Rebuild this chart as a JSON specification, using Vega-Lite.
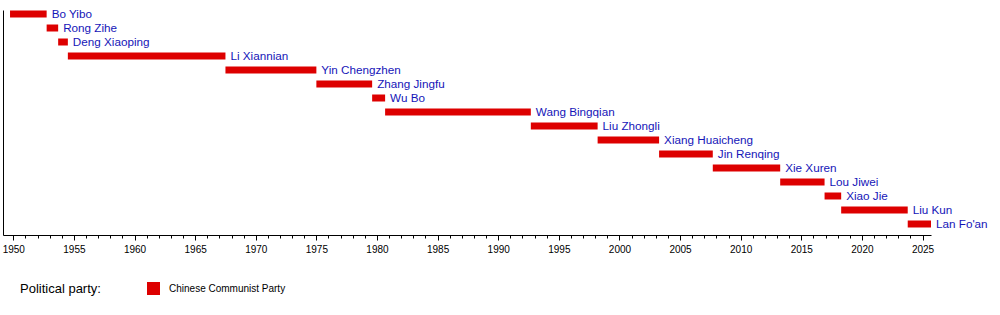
{
  "$schema": "https://vega.github.io/schema/vega-lite/v6.json",
  "width": 928,
  "height": 225,
  "autosize": {"type": "none"},
  "padding": {"left": 3, "top": 10, "right": 69, "bottom": 80},
  "background": "white",
  "view": {"stroke": null},
  "data": {
    "values": [
      {"name": "Bo Yibo", "row": 0, "start": 1949.73, "end": 1952.75, "party": "Chinese Communist Party"},
      {"name": "Rong Zihe", "row": 1, "start": 1952.75, "end": 1953.7, "party": "Chinese Communist Party"},
      {"name": "Deng Xiaoping", "row": 2, "start": 1953.7, "end": 1954.5, "party": "Chinese Communist Party"},
      {"name": "Li Xiannian", "row": 3, "start": 1954.5, "end": 1967.5, "party": "Chinese Communist Party"},
      {"name": "Yin Chengzhen", "row": 4, "start": 1967.5, "end": 1975.0, "party": "Chinese Communist Party"},
      {"name": "Zhang Jingfu", "row": 5, "start": 1975.0, "end": 1979.6, "party": "Chinese Communist Party"},
      {"name": "Wu Bo", "row": 6, "start": 1979.6, "end": 1980.67, "party": "Chinese Communist Party"},
      {"name": "Wang Bingqian", "row": 7, "start": 1980.67, "end": 1992.69, "party": "Chinese Communist Party"},
      {"name": "Liu Zhongli", "row": 8, "start": 1992.69, "end": 1998.2, "party": "Chinese Communist Party"},
      {"name": "Xiang Huaicheng", "row": 9, "start": 1998.2, "end": 2003.27, "party": "Chinese Communist Party"},
      {"name": "Jin Renqing", "row": 10, "start": 2003.27, "end": 2007.7, "party": "Chinese Communist Party"},
      {"name": "Xie Xuren", "row": 11, "start": 2007.7, "end": 2013.26, "party": "Chinese Communist Party"},
      {"name": "Lou Jiwei", "row": 12, "start": 2013.26, "end": 2016.92, "party": "Chinese Communist Party"},
      {"name": "Xiao Jie", "row": 13, "start": 2016.92, "end": 2018.29, "party": "Chinese Communist Party"},
      {"name": "Liu Kun", "row": 14, "start": 2018.29, "end": 2023.78, "party": "Chinese Communist Party"},
      {"name": "Lan Fo'an", "row": 15, "start": 2023.78, "end": 2025.7, "party": "Chinese Communist Party"}
    ]
  },
  "encoding": {
    "y": {
      "field": "row",
      "type": "quantitative",
      "scale": {"domain": [-0.286, 15.786], "reverse": true, "nice": false, "zero": false, "padding": 0},
      "axis": {"labels": false, "ticks": false, "grid": false, "title": null, "domain": true, "domainColor": "black", "domainWidth": 1}
    }
  },
  "layer": [
    {
      "mark": {"type": "bar", "orient": "horizontal", "size": 7},
      "encoding": {
        "x": {
          "field": "start",
          "type": "quantitative",
          "scale": {"domain": [1949.15, 2025.7], "nice": false, "zero": false, "padding": 0},
          "axis": {
            "orient": "bottom",
            "title": null,
            "grid": false,
            "values": [1950,1955,1960,1965,1970,1975,1980,1985,1990,1995,2000,2005,2010,2015,2020,2025],
            "format": "d",
            "labelOverlap": false,
            "labelFlush": false,
            "labelBound": false,
            "labelFont": "Liberation Sans",
            "labelFontSize": 10,
            "labelColor": "black",
            "labelPadding": 4,
            "tickColor": "black",
            "tickSize": 5,
            "domainColor": "black",
            "domainWidth": 1
          }
        },
        "x2": {"field": "end"},
        "color": {
          "field": "party",
          "type": "nominal",
          "scale": {"domain": ["Chinese Communist Party"], "range": ["#dd0000"]},
          "legend": {
            "orient": "none",
            "legendX": 17,
            "legendY": 272,
            "direction": "horizontal",
            "title": "Political party:",
            "titleOrient": "left",
            "titleFont": "Liberation Sans",
            "titleFontSize": 13,
            "titleFontWeight": "normal",
            "titleColor": "black",
            "titlePadding": 46,
            "symbolType": "square",
            "symbolSize": 169,
            "symbolStrokeWidth": 0,
            "symbolOpacity": 1,
            "labelFont": "Liberation Sans",
            "labelFontSize": 10,
            "labelColor": "black",
            "labelOffset": 9
          }
        }
      }
    },
    {
      "mark": {"type": "text", "align": "left", "baseline": "middle", "dx": 5, "font": "Liberation Sans", "fontSize": 11.7, "color": "#1515b8"},
      "encoding": {
        "x": {
          "field": "end",
          "type": "quantitative",
          "axis": {
            "orient": "bottom",
            "title": null,
            "grid": false,
            "labels": false,
            "domain": false,
            "values": [1950,1951,1952,1953,1954,1955,1956,1957,1958,1959,1960,1961,1962,1963,1964,1965,1966,1967,1968,1969,1970,1971,1972,1973,1974,1975,1976,1977,1978,1979,1980,1981,1982,1983,1984,1985,1986,1987,1988,1989,1990,1991,1992,1993,1994,1995,1996,1997,1998,1999,2000,2001,2002,2003,2004,2005,2006,2007,2008,2009,2010,2011,2012,2013,2014,2015,2016,2017,2018,2019,2020,2021,2022,2023,2024,2025],
            "tickColor": "black",
            "tickSize": 3
          }
        },
        "text": {"field": "name"}
      }
    }
  ],
  "resolve": {"axis": {"x": "independent"}}
}
